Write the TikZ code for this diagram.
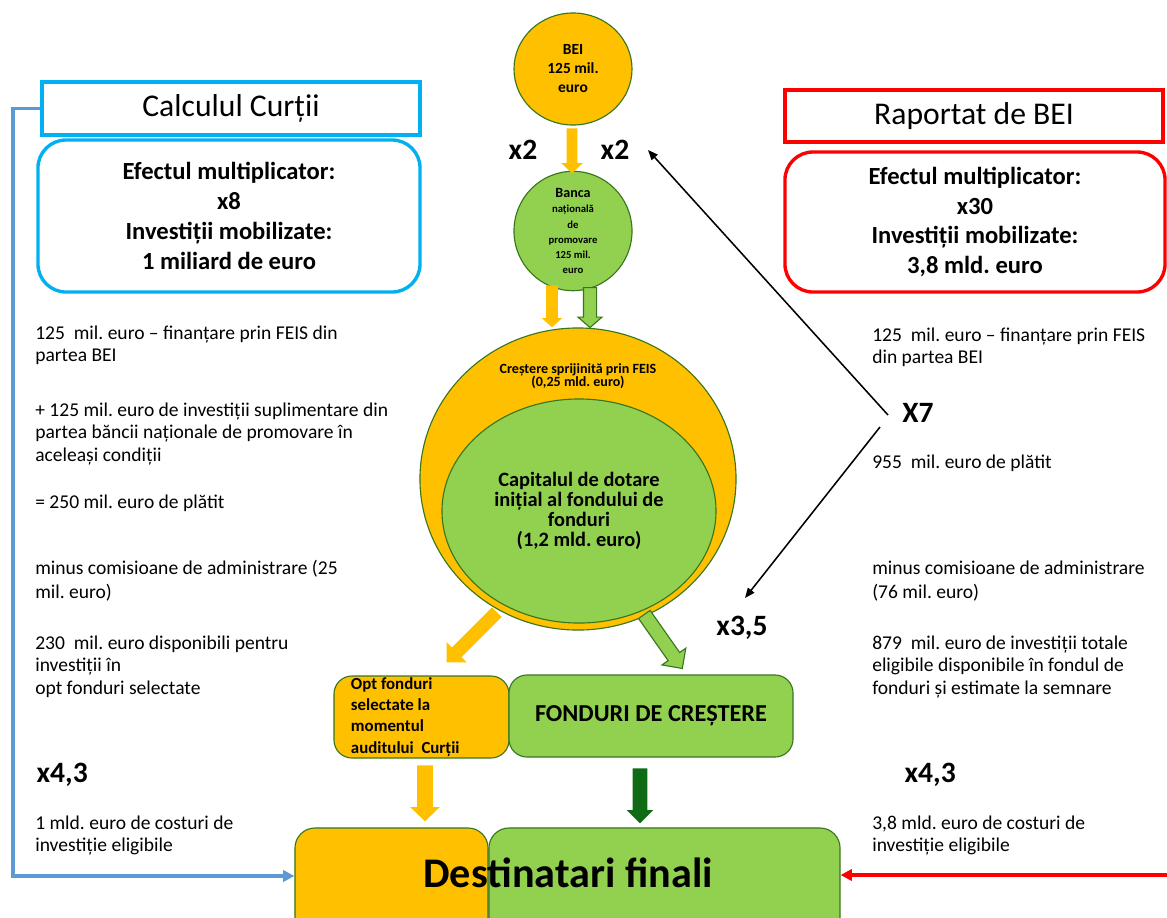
\documentclass[tikz,border=0pt]{standalone}
\usepackage{fontspec}
\setmainfont{Carlito}
\usepackage{tikz}
\usetikzlibrary{positioning, shapes.geometric, shapes.arrows, arrows.meta}

\definecolor{gold}{RGB}{255,192,0}
\definecolor{leaf}{RGB}{146,208,80}
\definecolor{leafline}{RGB}{56,118,29}
\definecolor{pine}{RGB}{16,108,20}
\definecolor{sky}{RGB}{0,176,240}
\definecolor{steel}{RGB}{91,155,213}
\definecolor{scarlet}{RGB}{255,0,0}

\tikzset{
  disc/.style={ellipse, draw=leafline, line width=0.8pt, inner sep=0pt, align=center},
  titlebox/.style={draw, line width=2.8pt, inner sep=0pt, font=\fontsize{22.5}{27}\selectfont},
  fxbox/.style={draw, line width=2.4pt, rounded corners=0.7cm, inner sep=0pt, align=center, font=\fontsize{17.5}{21.3}\selectfont\bfseries},
  flowbox/.style={draw=leafline, line width=0.8pt, rounded corners=0.45cm, inner sep=0pt},
  mult/.style={font=\fontsize{21}{24}\selectfont\bfseries, inner sep=1pt},
  body/.style={font=\fontsize{13.9}{16}\selectfont, inner sep=0pt},
  blk/.style n args={5}{single arrow, inner xsep=0pt, inner ysep=#5, single arrow head indent=0pt,
    minimum height=#1, minimum width=#2, single arrow head extend=#3, single arrow tip angle=#4, anchor=tail},
  feed/.style={line width=2.2pt, -{Triangle[length=0.28cm, width=0.28cm]}},
  pointer/.style={line width=1.1pt, -{Triangle[length=0.25cm, width=0.2cm]}}
}

\begin{document}
\frenchspacing
\begin{tikzpicture}[x=0.025cm, y=-0.025cm]
    \useasboundingbox (0,0) rectangle (1167,917);
    \clip (0,0) rectangle (1167,917);

    % Draw the two panels with the multipliers
    \node[titlebox, draw=sky, minimum width=9.45cm, minimum height=1.325cm] (calc) at (231,108.5) {Calculul Curții};
    \node[fxbox, draw=sky, minimum width=9.55cm, minimum height=3.8cm] (calcfx) at (229,216) {Efectul multiplicator:\\x8\\Investiții mobilizate:\\1 miliard de euro};
    \node[titlebox, draw=scarlet, minimum width=9.45cm, minimum height=1.3cm] (eib) at (974,116) {Raportat de BEI};
    \node[fxbox, draw=scarlet, minimum width=9.5cm, minimum height=3.5cm] (eibfx) at (975,222) {Efectul multiplicator:\\x30\\Investiții mobilizate:\\3,8 mld. euro};

    % Draw source circles
    \node[disc, fill=gold, minimum width=2.95cm, minimum height=2.8cm, font=\fontsize{11}{13.5}\selectfont\bfseries] (bei) at (573,69) {BEI\\125 mil.\\euro};
    \node[disc, fill=leaf, minimum width=2.95cm, minimum height=2.7cm, font=\fontsize{7.6}{10.7}\selectfont\bfseries] (banca) at (573,231) {{\fontsize{10}{10.7}\selectfont Banca}\\națională\\de\\promovare\\125 mil.\\euro};

    % Draw fund of funds
    \node[disc, fill=gold, minimum width=7.9cm, minimum height=7.55cm] (feis) at (578,479) {};
    \node[font=\fontsize{10}{9.5}\selectfont\bfseries, align=center, inner sep=0pt] (feislbl) at (578,376) {Creștere sprijinită prin FEIS\\(0,25 mld. euro)};
    \node[disc, fill=leaf, minimum width=6.85cm, minimum height=5.6cm, font=\fontsize{14.5}{14.3}\selectfont\bfseries] (fof) at (579,511) {Capitalul de dotare\\inițial al fondului de\\fonduri\\(1,2 mld. euro)};

    % Draw funds and final recipients
    \node[flowbox, fill=gold, minimum width=4.375cm, minimum height=2.05cm, text width=3.525cm, inner xsep=0.425cm, align=left, font=\fontsize{12}{15}\selectfont\bfseries] (opt) at (421.5,717) {\spaceskip=0pt\relax Opt fonduri\\selectate la\\momentul\\auditului~ Curții};
    \node[flowbox, fill=leaf, minimum width=7.1cm, minimum height=2.05cm, font=\fontsize{17.3}{20}\selectfont\bfseries] (growth) at (651,716) {FONDURI DE CREȘTERE};
    \node[flowbox, fill=gold, minimum width=4.825cm, minimum height=3.3cm, rounded corners=0.5cm] (desty) at (391.5,894) {};
    \node[flowbox, fill=leaf, minimum width=8.775cm, minimum height=3.3cm, rounded corners=0.5cm] (destg) at (664.5,894) {};
    \node[font=\fontsize{30}{36}\selectfont\bfseries, inner sep=0pt] (dest) at (568,873) {Destinatari finali};

    % Block arrows
    \node[blk={1.125cm}{0.525cm}{0.1375cm}{93}{0.125cm}, fill=gold, rotate=-90] (a1) at (572,128) {};
    \node[blk={1.05cm}{0.5cm}{0.1125cm}{96}{0.1375cm}, fill=gold, rotate=-90] (a2) at (552,285) {};
    \node[blk={1.0cm}{0.575cm}{0.1375cm}{98}{0.15cm}, fill=leaf, draw=leafline, line width=0.8pt, rotate=-90] (a3) at (590,287) {};
    \node[blk={1.775cm}{0.7cm}{0.1875cm}{90}{0.1625cm}, fill=gold, rotate=225] (a4) at (497,612) {};
    \node[blk={1.65cm}{0.7cm}{0.1875cm}{90}{0.1625cm}, fill=leaf, draw=leafline, line width=0.8pt, rotate=-54.9] (a5) at (644,614) {};
    \node[blk={1.4cm}{0.725cm}{0.175cm}{92}{0.1875cm}, fill=gold, rotate=-90] (a6) at (425,765) {};
    \node[blk={1.375cm}{0.65cm}{0.15cm}{90}{0.175cm}, fill=pine, rotate=-90] (a7) at (640,768) {};

    % Multipliers
    \node[mult] (x2l) at (523,150) {x2};
    \node[mult] (x2r) at (615,150) {x2};
    \node[mult] (x7) at (918,413) {X7};
    \node[mult] (x35) at (742,628) {x3,5};
    \node[mult, anchor=west] (x43l) at (35,775) {x4,3};
    \node[mult, anchor=west] (x43r) at (903,775) {x4,3};

    % Pointers from X7
    \coordinate (x7up) at (888,415);
    \coordinate (x7dn) at (880,427);
    \coordinate (x2tip) at (648,150);
    \coordinate (x35tip) at (745,598);
    \draw[pointer] (x7up) -- (x2tip);
    \draw[pointer] (x7dn) -- (x35tip);

    % Feed lines into the final recipients
    \coordinate (bluecorner) at (13,876);
    \coordinate (redstart) at (1170,875);
    \draw[feed, draw=steel, color=steel] (calc.west) -| (bluecorner) -- (bluecorner -| desty.west);
    \draw[feed, draw=scarlet, color=scarlet] (redstart) -- (redstart -| destg.east);

    % Left notes
    \foreach \y/\t [count=\i] in {339/{125~ mil. euro – finanțare prin FEIS din}, 361/{partea BEI},
      416/{+ 125 mil. euro de investiții suplimentare din}, 438/{partea băncii naționale de promovare în}, 461/{aceleași condiții},
      508/{= 250 mil. euro de plătit}, 574/{minus comisioane de administrare (25}, 598/{mil. euro)},
      649/{230~ mil. euro disponibili pentru}, 671/{investiții în}, 694/{opt fonduri selectate},
      829/{1 mld. euro de costuri de}, 851/{investiție eligibile}} {
      \node[body, anchor=base west] (left\i) at (35,\y) {\t};
    }

    % Right notes
    \foreach \y/\t [count=\i] in {341/{125~ mil. euro – finanțare prin FEIS}, 363/{din partea BEI},
      468/{955~ mil. euro de plătit}, 574/{minus comisioane de administrare}, 598/{(76 mil. euro)},
      649/{879~ mil. euro de investiții totale}, 671/{eligibile disponibile în fondul de}, 694/{fonduri și estimate la semnare},
      829/{3,8 mld. euro de costuri de}, 851/{investiție eligibile}} {
      \node[body, anchor=base west] (right\i) at (872,\y) {\t};
    }
\end{tikzpicture}
\end{document}
